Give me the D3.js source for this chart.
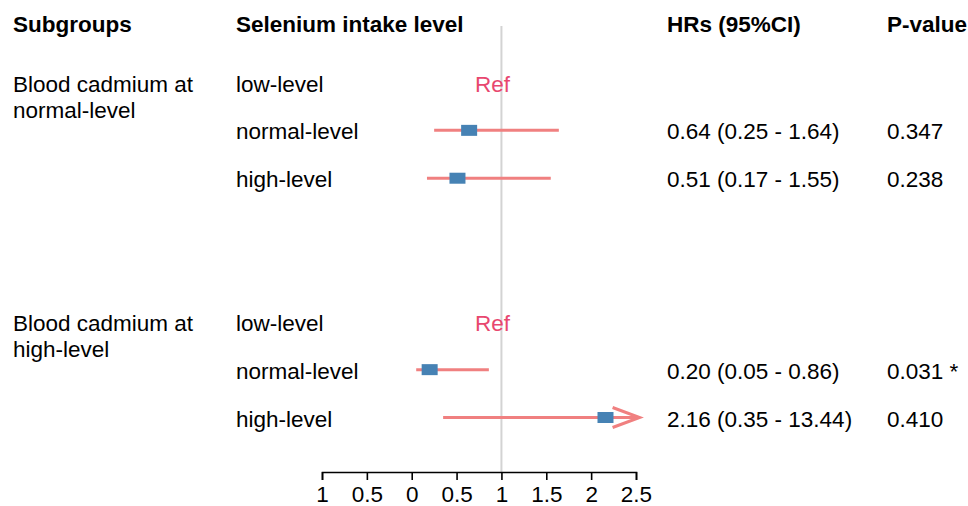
<!DOCTYPE html>
<html>
<head>
<meta charset="utf-8">
<script src="https://cdn.jsdelivr.net/npm/d3@7"></script>
<style>
  body { margin: 0; background: #fff; }
  text { font-family: "Liberation Sans", Arial, sans-serif; fill: #000; }
</style>
</head>
<body>
<script>
// data
var headers = ["Subgroups", "Selenium intake level", "HRs (95%CI)", "P-value"];
var groups = [["Blood cadmium at", "normal-level"], ["Blood cadmium at", "high-level"]];
var levels = ["low-level", "normal-level", "high-level", "low-level", "normal-level", "high-level"];
var rowIndex = [0, 1, 2, 5, 6, 7];
var hr = [null, 0.64, 0.51, null, 0.20, 2.16];
var lower = [null, 0.25, 0.17, null, 0.05, 0.35];
var upper = [null, 1.64, 1.55, null, 0.86, 13.44];
var hrText = ["", "0.64 (0.25 - 1.64)", "0.51 (0.17 - 1.55)", "", "0.20 (0.05 - 0.86)", "2.16 (0.35 - 13.44)"];
var pText = ["", "0.347", "0.238", "", "0.031 *", "0.410"];
var tickValues = [-1, -0.5, 0, 0.5, 1, 1.5, 2, 2.5];
var tickLabels = ["1", "0.5", "0", "0.5", "1", "1.5", "2", "2.5"];

var width = 968, height = 506;
var colX = [13, 236, 667, 887];
var fs = "22.5px";

var svg = d3.select("body").append("svg")
    .attr("width", width)
    .attr("height", height);

// scales
var x = d3.scaleLinear().domain([-1, 2.5]).range([322, 636]);
var y = d3.scaleLinear().domain([0, 7]).range([83.5, 418.5]);
var xMax = 2.54;

// reference line at HR = 1
svg.append("line")
    .attr("x1", x(1)).attr("x2", x(1))
    .attr("y1", 26).attr("y2", 472)
    .style("stroke", "#d3d3d3")
    .style("stroke-width", 2);

// headers
svg.selectAll(".header")
    .data(headers)
    .enter()
    .append("text")
    .attr("x", function(d, i){ return colX[i]; })
    .attr("y", 32)
    .style("font-size", fs)
    .style("font-weight", "bold")
    .text(function(d){ return d; });

// subgroup labels
groups.forEach(function(g, gi) {
    var t = svg.append("text")
        .attr("x", colX[0])
        .attr("y", y(rowIndex[gi * 3]) + 8)
        .style("font-size", fs);
    g.forEach(function(line, li) {
        t.append("tspan")
            .attr("x", colX[0])
            .attr("dy", li === 0 ? 0 : 26)
            .text(line);
    });
});

// level labels, HR text, p values
levels.forEach(function(lv, i) {
    var yy = y(rowIndex[i]) + 8;
    svg.append("text").attr("x", colX[1]).attr("y", yy)
        .style("font-size", fs).text(lv);
    svg.append("text").attr("x", colX[2]).attr("y", yy)
        .style("font-size", fs).text(hrText[i]);
    svg.append("text").attr("x", colX[3]).attr("y", yy)
        .style("font-size", fs).text(pText[i]);
    if (hr[i] === null) {
        svg.append("text")
            .attr("x", x(0.9))
            .attr("y", yy)
            .attr("text-anchor", "middle")
            .style("font-size", fs)
            .style("fill", "#e8476f")
            .text("Ref");
    }
});

// CI lines
var idx = d3.range(levels.length).filter(function(i){ return hr[i] !== null; });
svg.selectAll(".ci")
    .data(idx)
    .enter()
    .append("line")
    .attr("x1", function(i){ return x(lower[i]); })
    .attr("x2", function(i){ return x(Math.min(upper[i], xMax)); })
    .attr("y1", function(i){ return y(rowIndex[i]) - 1; })
    .attr("y2", function(i){ return y(rowIndex[i]) - 1; })
    .style("stroke", "#f08080")
    .style("stroke-width", 3);

// open arrowheads where CI runs off the axis
svg.selectAll(".arrow")
    .data(idx.filter(function(i){ return upper[i] > xMax; }))
    .enter()
    .append("path")
    .attr("d", function(i) {
        var tx = x(xMax), ty = y(rowIndex[i]) - 1;
        return "M" + (tx - 27) + "," + (ty - 10) + "L" + tx + "," + ty + "L" + (tx - 27) + "," + (ty + 10);
    })
    .style("fill", "none")
    .style("stroke", "#f08080")
    .style("stroke-width", 3);

// point estimates
svg.selectAll(".box")
    .data(idx)
    .enter()
    .append("rect")
    .attr("x", function(i){ return x(hr[i]) - 8; })
    .attr("y", function(i){ return y(rowIndex[i]) - 6.5; })
    .attr("width", 16)
    .attr("height", 11)
    .style("fill", "#4682b4");

// x axis
var axis = svg.append("g")
    .attr("transform", "translate(0,472)")
    .call(d3.axisBottom(x)
        .tickValues(tickValues)
        .tickFormat(function(d, i){ return tickLabels[i]; })
        .tickSize(8)
        .tickSizeOuter(8)
        .tickPadding(6));
axis.select(".domain").style("stroke", "#000").style("stroke-width", 1.6);
axis.selectAll(".tick line").style("stroke", "#000").style("stroke-width", 1.6);
axis.selectAll("text")
    .style("font-size", fs)
    .style("font-family", "'Liberation Sans', Arial, sans-serif")
    .style("fill", "#000");
</script>
</body>
</html>
